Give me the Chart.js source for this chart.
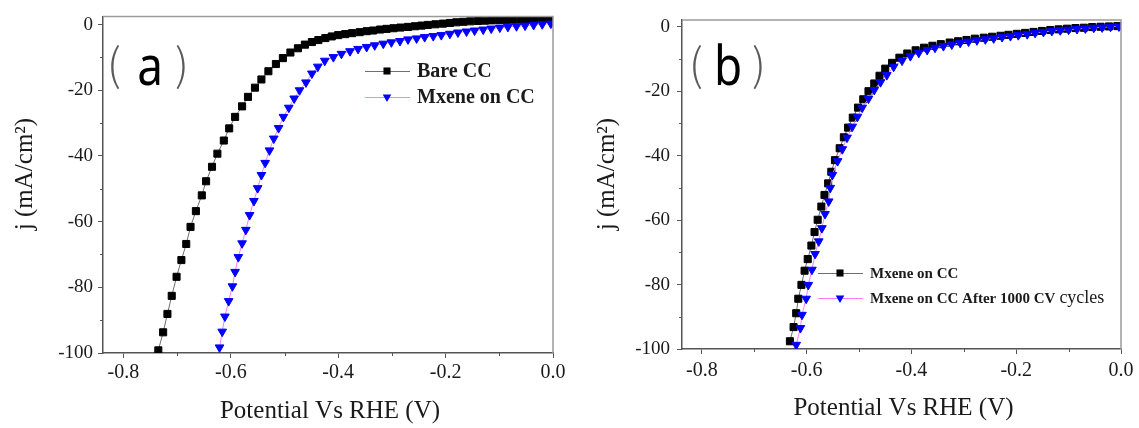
<!DOCTYPE html>
<html>
<head>
<meta charset="utf-8">
<script src="https://cdn.jsdelivr.net/npm/chart.js@4.4.1/dist/chart.umd.min.js"></script>
<style>
  html, body { margin: 0; padding: 0; background: #fff; }
  #wrap { position: relative; width: 1139px; height: 428px; }
  .panel { position: absolute; top: 0; height: 428px; }
</style>
</head>
<body>
<div id="wrap">
  <div class="panel" style="left:0;width:570px"><canvas id="chartA" width="570" height="428"></canvas></div>
  <div class="panel" style="left:570px;width:569px"><canvas id="chartB" width="569" height="428"></canvas></div>
</div>
<script>
// ---- panel (a): Bare CC vs Mxene on CC ----
var bareV = [-0.735, -0.726, -0.718, -0.710, -0.701, -0.692, -0.683, -0.675, -0.665, -0.654,
  -0.646, -0.635, -0.625, -0.613, -0.603, -0.592, -0.579, -0.568, -0.555, -0.543,
  -0.530, -0.516, -0.503, -0.489, -0.475, -0.462, -0.449, -0.437, -0.424, -0.412,
  -0.400, -0.387, -0.374, -0.360, -0.347, -0.335, -0.322, -0.310, -0.297, -0.284,
  -0.270, -0.257, -0.245, -0.233, -0.219, -0.205, -0.192, -0.180, -0.167, -0.154,
  -0.140, -0.127, -0.114, -0.100, -0.087, -0.074, -0.060, -0.047, -0.034, -0.020, -0.007];
var bareJ = [-99.2, -93.7, -88.1, -82.6, -76.8, -71.7, -66.8, -61.6, -56.8, -52.0,
  -47.7, -43.3, -39.3, -35.3, -31.6, -28.1, -24.9, -22.0, -19.2, -16.7,
  -14.2, -12.0, -10.2, -8.5, -7.2, -6.1, -5.3, -4.7, -4.1, -3.6,
  -3.2, -2.9, -2.6, -2.3, -2.0, -1.8, -1.5, -1.3, -1.1, -0.9,
  -0.7, -0.5, -0.3, -0.1, 0.1, 0.3, 0.5, 0.7, 0.85, 1.0,
  1.1, 1.2, 1.3, 1.4, 1.45, 1.5, 1.55, 1.6, 1.65, 1.7, 1.75];

var mxeneV = [-0.621, -0.616, -0.611, -0.604, -0.597, -0.592, -0.586, -0.579, -0.572, -0.565,
  -0.557, -0.550, -0.543, -0.536, -0.528, -0.520, -0.511, -0.502, -0.492, -0.482,
  -0.472, -0.460, -0.449, -0.438, -0.425, -0.409, -0.394, -0.378, -0.363, -0.347,
  -0.332, -0.316, -0.301, -0.285, -0.270, -0.254, -0.239, -0.223, -0.208, -0.192,
  -0.177, -0.161, -0.146, -0.130, -0.115, -0.099, -0.084, -0.068, -0.052, -0.036, -0.020, -0.004];
var mxeneJ = [-98.3, -93.5, -88.9, -84.2, -79.7, -75.3, -70.8, -66.6, -62.5, -58.0,
  -53.7, -49.8, -45.8, -42.1, -38.3, -34.7, -31.5, -28.1, -25.3, -22.5,
  -20.0, -17.6, -14.9, -12.8, -11.0, -9.9, -8.9, -8.1, -7.4, -6.8,
  -6.3, -5.8, -5.4, -5.0, -4.5, -4.2, -3.8, -3.5, -3.2, -2.8,
  -2.4, -2.1, -1.8, -1.5, -1.2, -0.9, -0.7, -0.5, -0.3, -0.1, 0.1, 0.3];

// ---- panel (b): Mxene on CC before / after 1000 CV cycles ----
var freshV = [-0.632, -0.625, -0.620, -0.616, -0.610, -0.604, -0.598, -0.591, -0.585, -0.579,
  -0.572, -0.566, -0.559, -0.553, -0.546, -0.537, -0.529, -0.521, -0.512, -0.502,
  -0.492, -0.482, -0.471, -0.461, -0.450, -0.437, -0.423, -0.408, -0.392, -0.376,
  -0.360, -0.344, -0.327, -0.311, -0.295, -0.279, -0.262, -0.246, -0.230, -0.215,
  -0.199, -0.183, -0.167, -0.151, -0.135, -0.119, -0.103, -0.087, -0.071, -0.055,
  -0.039, -0.023, -0.007];
var freshJ = [-97.6, -93.2, -88.9, -84.4, -80.1, -75.7, -72.1, -67.9, -63.7, -59.9,
  -55.8, -52.2, -48.6, -45.0, -41.4, -37.7, -34.3, -31.3, -28.2, -25.1,
  -22.5, -20.0, -17.6, -15.2, -13.0, -11.2, -9.6, -8.3, -7.3, -6.5,
  -5.9, -5.4, -4.9, -4.5, -4.1, -3.7, -3.4, -3.1, -2.8, -2.5,
  -2.2, -1.9, -1.6, -1.3, -1.0, -0.8, -0.6, -0.4, -0.3, -0.1,
  0, 0.1, 0.2];

var cycledV = [-0.620, -0.612, -0.609, -0.601, -0.597, -0.590, -0.584, -0.577, -0.571, -0.565,
  -0.558, -0.555, -0.551, -0.541, -0.532, -0.523, -0.513, -0.503, -0.494, -0.482,
  -0.471, -0.459, -0.447, -0.434, -0.418, -0.402, -0.386, -0.370, -0.355, -0.339,
  -0.323, -0.307, -0.291, -0.275, -0.259, -0.243, -0.227, -0.211, -0.196, -0.179,
  -0.164, -0.148, -0.132, -0.116, -0.100, -0.084, -0.068, -0.052, -0.036, -0.020, -0.004];
var cycledJ = [-98.7, -93.5, -89.4, -84.4, -80.1, -75.4, -70.5, -66.6, -62.5, -58.1,
  -54.2, -50.0, -46.0, -41.7, -38.0, -34.4, -31.0, -27.9, -25.1, -22.3,
  -19.6, -17.2, -15.0, -12.4, -10.5, -9.1, -8.1, -7.2, -6.5, -6.0,
  -5.5, -5.0, -4.6, -4.2, -3.9, -3.6, -3.2, -2.9, -2.6, -2.3,
  -1.9, -1.6, -1.3, -1.1, -0.9, -0.7, -0.5, -0.3, -0.2, 0, 0.1];

// axis ticks
var xMajor = [-0.8, -0.6, -0.4, -0.2, 0.0];
var yMajor = [0, -20, -40, -60, -80, -100];

function toPoints(xs, ys) {
  return xs.map(function(v, i) { return { x: v, y: ys[i] }; });
}

var serif = '"Liberation Serif", "Times New Roman", serif';

// black squares / blue down-triangles, like the Origin plot
var blackStyle = {
  borderColor: '#6e6e6e', borderWidth: 1,
  pointStyle: 'rect', pointRadius: 5, pointBackgroundColor: '#000', pointBorderColor: '#000',
  pointBorderWidth: 1, pointRotation: 0, order: 1
};
var blueStyle = {
  borderColor: '#ff7cff', borderWidth: 1,
  pointStyle: 'triangle', pointRadius: 5, pointBackgroundColor: '#0000ff', pointBorderColor: '#0000ff',
  pointBorderWidth: 1, pointRotation: 180, order: 0
};

function drawMarker(ctx, ds, x, y) {
  var r = ds.pointRadius;
  ctx.fillStyle = ds.pointBackgroundColor;
  ctx.beginPath();
  if (ds.pointStyle === 'rect') {
    var s = Math.SQRT1_2 * r;
    ctx.rect(x - s, y - s, 2 * s, 2 * s);
  } else {
    // downward triangle
    var a = Math.PI;
    ctx.moveTo(x + Math.sin(a) * r, y - Math.cos(a) * r);
    a += 2 * Math.PI / 3;
    ctx.lineTo(x + Math.sin(a) * r, y - Math.cos(a) * r);
    a += 2 * Math.PI / 3;
    ctx.lineTo(x + Math.sin(a) * r, y - Math.cos(a) * r);
    ctx.closePath();
  }
  ctx.fill();
}

// frame, minor ticks, panel letter, axis titles and legend
function decorPlugin(cfg) {
  return {
    id: 'decor',
    afterDraw: function(chart) {
      var ctx = chart.ctx, a = chart.chartArea;
      var xs = chart.scales.x, ys = chart.scales.y;
      ctx.save();

      // top and right frame
      ctx.strokeStyle = '#9a9a9a';
      ctx.lineWidth = 1.5;
      ctx.beginPath();
      ctx.moveTo(a.left, a.top);
      ctx.lineTo(a.right, a.top);
      ctx.lineTo(a.right, a.bottom);
      ctx.stroke();

      // minor ticks
      ctx.strokeStyle = '#555';
      ctx.lineWidth = 1;
      ctx.beginPath();
      xs.ticks.forEach(function(t) {
        if (xMajor.some(function(m) { return Math.abs(m - t.value) < 1e-6; })) return;
        var px = Math.round(xs.getPixelForValue(t.value)) + 0.5;
        ctx.moveTo(px, a.bottom); ctx.lineTo(px, a.bottom + 3);
      });
      ys.ticks.forEach(function(t) {
        if (yMajor.indexOf(t.value) >= 0) return;
        var py = Math.round(ys.getPixelForValue(t.value)) + 0.5;
        ctx.moveTo(a.left, py); ctx.lineTo(a.left - 3, py);
      });
      ctx.stroke();

      // panel letter with light parentheses
      ctx.textAlign = 'center';
      ctx.textBaseline = 'alphabetic';
      ctx.fillStyle = '#5a5a5a';
      ctx.font = '300 44px "Noto Sans CJK SC", "Noto Sans", sans-serif';
      ctx.fillText('(', cfg.letter.open, cfg.letter.base - 4);
      ctx.fillText(')', cfg.letter.close, cfg.letter.base - 4);
      ctx.fillStyle = '#000';
      ctx.font = '54px "Noto Sans", sans-serif';
      ctx.save();
      ctx.translate(cfg.letter.mid, cfg.letter.base);
      ctx.scale(0.85, 1);
      ctx.fillText(cfg.letter.text, 0, 0);
      ctx.restore();

      // axis titles
      ctx.fillStyle = '#1a1a1a';
      ctx.font = '25px ' + serif;
      ctx.textBaseline = 'middle';
      ctx.fillText('Potential Vs RHE (V)', (a.left + a.right) / 2 + 2, cfg.xTitleY);
      ctx.save();
      ctx.translate(cfg.yTitleX, 174);
      ctx.rotate(-Math.PI / 2);
      ctx.fillText('j (mA/cm\u00B2)', 0, 0);
      ctx.restore();

      // legend
      ctx.textAlign = 'left';
      cfg.legend.forEach(function(item, i) {
        var ds = chart.data.datasets[i];
        ctx.strokeStyle = ds.borderColor;
        ctx.lineWidth = 1;
        ctx.beginPath();
        ctx.moveTo(cfg.legendX, item.y + 0.5);
        ctx.lineTo(cfg.legendX + 45, item.y + 0.5);
        ctx.stroke();
        drawMarker(ctx, ds, cfg.legendX + 22, item.y);
        ctx.fillStyle = '#1a1a1a';
        ctx.font = 'bold ' + cfg.legendFont + 'px ' + serif;
        ctx.fillText(item.label, cfg.legendX + 52, item.y + 1);
        if (item.extra) {
          var w = ctx.measureText(item.label).width;
          ctx.font = '18px ' + serif;
          ctx.fillText(item.extra, cfg.legendX + 52 + w + 4, item.y);
        }
      });
      ctx.restore();
    }
  };
}

function makeChart(id, cfg) {
  var ctx = document.getElementById(id).getContext('2d');
  return new Chart(ctx, {
    type: 'scatter',
    data: {
      datasets: cfg.series.map(function(s) {
        return Object.assign({ label: s.label, data: toPoints(s.xs, s.ys), showLine: true, tension: 0 }, s.style);
      })
    },
    options: {
      responsive: false,
      animation: false,
      events: [],
      layout: { padding: { top: cfg.top, right: cfg.right, left: 0, bottom: 0 } },
      plugins: { legend: { display: false }, tooltip: { enabled: false } },
      scales: {
        x: {
          type: 'linear', min: -0.838, max: 0,
          afterFit: function(scale) { scale.height = cfg.xAxisH; },
          border: { display: true, color: '#555', width: 1.5 },
          grid: { drawOnChartArea: false, drawTicks: true, tickLength: 5,
            tickColor: function(c) { return xMajor.some(function(m) { return Math.abs(m - c.tick.value) < 1e-6; }) ? '#555' : 'rgba(0,0,0,0)'; } },
          ticks: {
            stepSize: 0.1, includeBounds: false, autoSkip: false, maxRotation: 0,
            padding: cfg.xPad, color: '#1a1a1a', font: { family: serif, size: 20 },
            callback: function(v) {
              return xMajor.some(function(m) { return Math.abs(m - v) < 1e-6; }) ? v.toFixed(1) : '';
            }
          }
        },
        y: {
          type: 'linear', min: -100, max: cfg.yMax,
          afterFit: function(scale) { scale.width = cfg.yAxisW; },
          border: { display: true, color: '#555', width: 1.5 },
          grid: { drawOnChartArea: false, drawTicks: true, tickLength: 5,
            tickColor: function(c) { return yMajor.indexOf(c.tick.value) >= 0 ? '#555' : 'rgba(0,0,0,0)'; } },
          ticks: {
            stepSize: 10, includeBounds: false, autoSkip: false,
            padding: cfg.yPad, color: '#1a1a1a', font: { family: serif, size: 19 },
            callback: function(v) { return yMajor.indexOf(v) >= 0 ? String(v) : ''; }
          }
        }
      }
    },
    plugins: [decorPlugin(cfg)]
  });
}

makeChart('chartA', {
  top: 15, right: 17, yAxisW: 103, xAxisH: 75, yMax: 2.5, xPad: 3, yPad: 5,
  series: [
    { label: 'Bare CC', xs: bareV, ys: bareJ, style: blackStyle },
    { label: 'Mxene on CC', xs: mxeneV, ys: mxeneJ, style: blueStyle }
  ],
  letter: { text: 'a', open: 114, mid: 150, close: 182, base: 85 },
  xTitleY: 411, yTitleX: 25,
  legendX: 365, legendFont: 20,
  legend: [ { y: 71, label: 'Bare CC' }, { y: 97, label: 'Mxene on CC' } ]
});

makeChart('chartB', {
  top: 20, right: 18, yAxisW: 112, xAxisH: 79, yMax: 2.1, xPad: 5, yPad: 7,
  series: [
    { label: 'Mxene on CC', xs: freshV, ys: freshJ, style: blackStyle },
    { label: 'Mxene on CC After 1000 CV cycles', xs: cycledV, ys: cycledJ, style: blueStyle }
  ],
  letter: { text: 'b', open: 126, mid: 158, close: 189, base: 85 },
  xTitleY: 408, yTitleX: 37,
  legendX: 248, legendFont: 15,
  legend: [ { y: 273, label: 'Mxene on CC' }, { y: 298, label: 'Mxene on CC After 1000 CV', extra: 'cycles' } ]
});
</script>
</body>
</html>
